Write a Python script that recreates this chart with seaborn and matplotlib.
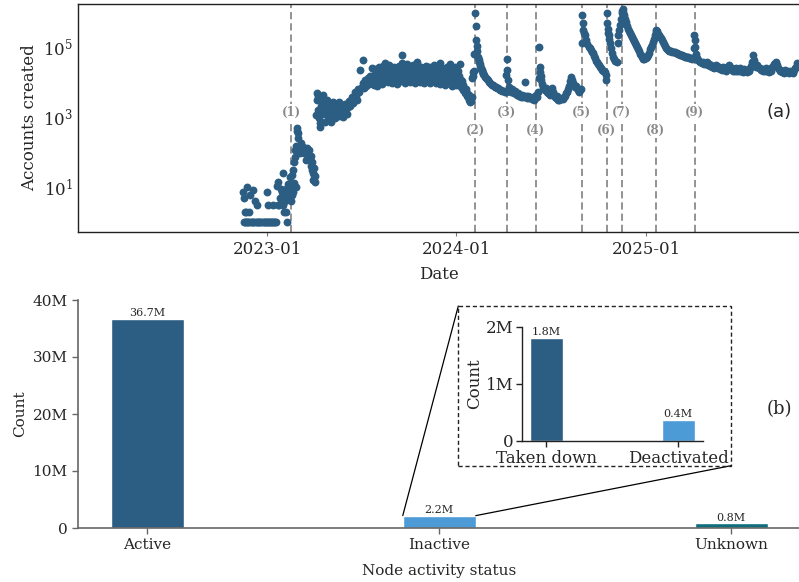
import matplotlib
matplotlib.use("Agg")
import matplotlib.pyplot as plt
import matplotlib.dates as mdates
import matplotlib.ticker as mticker
import matplotlib.transforms as mtrans
from matplotlib.patches import Rectangle, ConnectionPatch
import numpy as np
import pandas as pd
import seaborn as sns

# ---------------- data ----------------
reference_day = "2023-01-01"   # day offsets below are relative to this date

# (day offset, accounts created that day)
launch_phase = [
    (-46, 7), (-45, 1), (-44, 5), (-43, 1), (-42, 2), (-41, 1), (-40, 2), (-39, 1), (-38, 10),
    (-37, 1), (-36, 2), (-35, 1), (-33, 6), (-32, 1), (-30, 1), (-28, 8), (-27, 1), (-25, 1),
    (-23, 4), (-22, 1), (-20, 3), (-19, 1), (-17, 1), (-15, 1), (-13, 1), (-11, 1), (-9, 1),
    (-7, 1), (-5, 1), (-3, 1), (-1, 1), (0, 7), (1, 1), (2, 3), (3, 1), (5, 1), (7, 1), (9, 1),
    (11, 1), (12, 3), (13, 1), (15, 1), (17, 1), (19, 11), (20, 3), (21, 14), (23, 3), (25, 5),
    (27, 9), (29, 7), (30, 3), (31, 25), (32, 2), (33, 6), (35, 4), (36, 2), (37, 9), (38, 5),
    (39, 1), (40, 12), (42, 7), (44, 19), (45, 4),
]

invite_phase = [
    (46, 10), (47, 22), (48, 6), (49, 30), (50, 7), (51, 50), (52, 13), (53, 110), (54, 70),
    (55, 10), (56, 150), (57, 400), (58, 470), (59, 340), (60, 250), (61, 110), (62, 140),
    (64, 90), (66, 180), (67, 110), (69, 140), (71, 90), (73, 110), (74, 60), (76, 130),
    (78, 80), (80, 110), (82, 60), (84, 40), (85, 75), (86, 30), (87, 50), (88, 25), (89, 16),
    (90, 35), (91, 22), (92, 14), (93, 20),
    (95, 1100), (96, 2900), (97, 4600), (98, 3800), (99, 1500), (100, 900), (101, 650),
    (102, 500), (103, 1200), (104, 2000), (106, 3000), (107, 4000), (108, 2500), (110, 1500),
    (111, 700), (112, 1200), (114, 1800), (115, 3000), (116, 1400), (118, 1000), (120, 2000),
    (122, 1500), (123, 700), (124, 1100), (126, 1600), (127, 2600), (128, 1000), (130, 900),
    (132, 1300), (134, 1800), (136, 1200), (138, 1000), (139, 2500), (140, 1500), (142, 2000),
    (144, 1300), (146, 950), (148, 1400), (150, 2200), (152, 1600), (154, 1200), (156, 1800),
    (158, 2800), (160, 2000), (162, 3000), (164, 3600), (166, 2400), (168, 3200), (170, 4800),
    (172, 3800), (174, 2900), (176, 6000), (178, 5000), (180, 21000), (182, 7000),
    (184, 40000), (185, 9000), (186, 6500), (188, 11000), (190, 7500), (192, 9500),
    (194, 12000), (196, 8500), (198, 14000), (200, 10000), (202, 24000), (204, 12000),
]

plateau_phase = [
    (206, 15000), (207, 8000), (208, 22000), (210, 11000), (211, 18000), (212, 7500),
    (214, 13000), (215, 26000), (216, 9000), (218, 16000), (219, 11000), (220, 21000),
    (222, 8500), (223, 14000), (224, 27000), (226, 12000), (227, 19000), (228, 33000),
    (229, 10000), (230, 16000), (232, 23000), (233, 9500), (234, 14000), (236, 28000),
    (237, 11000), (238, 17000), (240, 9000), (241, 21000), (242, 13000), (244, 25000),
    (245, 10000), (246, 16000), (248, 12000), (249, 22000), (250, 8500), (252, 18000),
    (253, 13000), (254, 27000), (256, 10000), (257, 16000), (258, 21000), (260, 33000),
    (261, 55000), (262, 12000), (264, 19000), (265, 9000), (266, 24000), (268, 14000),
    (269, 30000), (270, 10000), (272, 17000), (273, 12000), (274, 26000), (276, 9500),
    (277, 15000), (278, 20000), (280, 11000), (281, 28000), (282, 14000), (284, 18000),
    (285, 9000), (286, 23000), (288, 12000), (289, 16000), (290, 35000), (292, 13000),
    (293, 21000), (294, 9500), (296, 17000), (297, 26000), (298, 11000), (300, 15000),
    (301, 22000), (302, 9000), (304, 18000), (305, 13000), (306, 27000), (308, 10000),
    (309, 16000), (310, 21000), (312, 12000), (313, 25000), (314, 9000), (316, 17000),
    (317, 13000), (318, 23000), (320, 10000), (321, 15000), (322, 28000), (324, 12000),
    (325, 18000), (326, 9000), (328, 22000), (329, 14000), (330, 11000), (332, 19000),
    (333, 8500), (334, 33000), (336, 13000), (337, 24000), (338, 10000), (340, 16000),
    (341, 12000), (342, 21000), (344, 8000), (345, 15000), (346, 26000), (348, 11000),
    (349, 18000), (350, 9000), (352, 14000), (353, 30000), (354, 10000), (356, 17000),
    (357, 7500), (358, 12000), (360, 22000), (361, 9000), (362, 25000), (364, 15000),
    (365, 8000), (366, 12000), (368, 20000), (369, 9000), (370, 14000), (372, 30000),
    (373, 11000), (374, 7000), (376, 10000), (377, 5500), (378, 8000), (380, 6500),
    (381, 4500), (382, 5000), (384, 6000), (385, 3800), (386, 4500), (388, 3600),
    (389, 3000), (390, 4000), (392, 2600), (393, 3200), (394, 2700), (395, 3500),
    (396, 12000), (397, 18000), (398, 14000), (399, 20000),
]

open_phase = [
    (400, 60000), (401, 870000), (402, 370000), (403, 150000), (404, 100000), (405, 70000),
    (406, 50000), (407, 45000), (408, 40000), (409, 34000), (410, 30000), (411, 27000),
    (412, 24000), (413, 22500), (414, 21000), (415, 19000), (416, 17000), (417, 16000),
    (418, 15000), (420, 13500), (422, 12500), (424, 11500), (426, 10500), (428, 9500),
    (430, 9000), (432, 8500), (434, 8000), (436, 7800), (438, 7300), (440, 7000), (442, 6800),
    (444, 6500), (446, 6400), (448, 6000), (450, 5800), (452, 5600), (454, 5400), (456, 5200),
    (458, 5000), (460, 4900), (461, 15000), (462, 43000), (463, 21000), (464, 11000),
    (466, 7000), (468, 5500), (470, 4800), (472, 6000), (474, 5000), (476, 4500), (478, 5200),
    (480, 4300), (482, 4000), (484, 4600), (486, 3800), (488, 4200), (490, 3600), (492, 4000),
    (494, 3500), (496, 3900), (498, 9500), (500, 3700), (502, 3400), (504, 3800), (506, 3300),
    (508, 3600), (510, 3200), (512, 3500), (514, 3000), (516, 3400), (518, 4000), (520, 3500),
    (522, 5000), (524, 12000), (525, 93000), (526, 25000), (527, 18000), (528, 14000),
    (529, 11000), (530, 8500), (532, 7000), (534, 6000), (536, 5500), (538, 6500), (540, 5000),
    (542, 4500), (544, 5200), (546, 4200), (548, 5500), (550, 6500), (552, 5000), (554, 4000),
    (556, 3600), (558, 3300), (560, 3800), (562, 3000), (564, 2900), (566, 3200), (568, 3400),
    (570, 3100), (572, 3600), (574, 3800), (576, 4500), (578, 5000), (580, 6000), (582, 7500),
    (584, 10000), (586, 13000), (588, 11000), (590, 9000), (592, 8000), (594, 7000),
    (596, 7500), (598, 6500), (600, 5600), (602, 5000), (604, 5500), (606, 6000),
]

surge_phase = [
    (607, 120000), (608, 760000), (609, 450000), (610, 280000), (612, 240000), (614, 200000),
    (616, 150000), (618, 115000), (620, 93000), (622, 85000), (624, 75000), (626, 68000),
    (628, 63000), (630, 52000), (632, 45000), (634, 38000), (636, 34000), (638, 30000),
    (640, 28000), (642, 25000), (644, 23000), (646, 21000), (648, 20000), (650, 19000),
    (652, 18000), (653, 15000), (654, 11000), (655, 870000), (656, 450000), (657, 300000),
    (658, 240000), (659, 200000), (660, 160000), (662, 120000), (664, 85000), (666, 63000),
    (668, 50000), (670, 42000), (672, 38000), (674, 35000), (676, 120000), (677, 200000),
    (678, 280000), (680, 400000), (682, 600000), (684, 850000), (685, 1000000), (686, 1100000),
    (687, 900000), (688, 750000), (690, 600000), (692, 480000), (694, 380000), (696, 300000),
    (698, 260000), (700, 230000), (702, 200000), (704, 180000), (706, 160000), (708, 140000),
    (710, 125000), (712, 110000), (714, 95000), (716, 80000), (718, 70000), (720, 60000),
    (722, 54000), (724, 49000), (726, 44000), (728, 42000), (730, 45000), (732, 50000),
    (734, 56000), (736, 65000), (738, 80000), (740, 95000), (742, 110000), (744, 130000),
    (746, 160000), (748, 200000), (750, 250000), (751, 280000), (752, 260000), (754, 220000),
    (756, 200000), (758, 185000), (760, 170000), (762, 150000), (764, 130000), (766, 115000),
    (768, 100000), (770, 90000), (772, 82000), (774, 78000), (776, 74000), (778, 72000),
    (780, 70000), (782, 68000), (784, 67000), (786, 66000), (788, 65000), (790, 62000),
    (792, 60000), (794, 58000), (796, 57000), (798, 55000), (800, 54000), (802, 52000),
    (804, 51000), (806, 50000), (808, 50000), (810, 49000), (812, 48000), (814, 47000),
    (816, 46000), (818, 45000), (820, 44000), (822, 45000), (823, 90000), (824, 200000),
    (825, 150000), (826, 93000), (827, 60000), (828, 45000),
]

late_phase = [
    (830, 45000), (832, 40000), (834, 37000), (836, 35000), (838, 33000), (840, 34000),
    (842, 31000), (844, 33000), (846, 30000), (848, 34000), (850, 29000), (852, 30000),
    (854, 27000), (856, 28000), (858, 25000), (860, 26000), (862, 24000), (864, 25000),
    (866, 29000), (868, 27000), (870, 23000), (872, 25000), (874, 22000), (876, 24000),
    (878, 21000), (880, 26000), (882, 22000), (884, 23000), (886, 20000), (888, 25000),
    (890, 22000), (892, 28000), (894, 24000), (896, 23000), (898, 20000), (900, 22000),
    (902, 19000), (904, 24000), (906, 20000), (908, 21000), (910, 19000), (912, 23000),
    (914, 20000), (916, 20000), (918, 18000), (920, 22000), (922, 19000), (924, 20000),
    (926, 18000), (928, 21000), (930, 20000), (932, 24000), (934, 27000), (936, 35000),
    (938, 55000), (940, 40000), (942, 30000), (944, 26000), (946, 28000), (948, 23000),
    (950, 24000), (952, 21000), (954, 22000), (956, 19000), (958, 21000), (960, 20000),
    (962, 23000), (964, 19000), (966, 20000), (968, 18000), (970, 22000), (972, 20000),
    (974, 25000), (976, 27000), (978, 30000), (980, 33000), (982, 35000), (984, 28000),
    (986, 24000), (988, 22000), (990, 20000), (992, 20000), (994, 18000), (996, 19000),
    (998, 17000), (1000, 21000), (1002, 19000), (1004, 18000), (1006, 17000), (1008, 20000),
    (1010, 18000), (1012, 18000), (1014, 17000), (1016, 21000), (1018, 23000), (1020, 26000),
    (1022, 33000), (1024, 30000),
]

event_dates = ["2023-02-16", "2024-02-06", "2024-04-07", "2024-06-02", "2024-08-30",
               "2024-10-17", "2024-11-15", "2025-01-20", "2025-04-05"]
event_labels = ["(1)", "(2)", "(3)", "(4)", "(5)", "(6)", "(7)", "(8)", "(9)"]
year_ticks = ["2023-01-01", "2024-01-01", "2025-01-01"]

status_labels = ["Active", "Inactive", "Unknown"]
status_counts = [36.7e6, 2.17e6, 0.8e6]
status_text = ["36.7M", "2.2M", "0.8M"]

inactive_labels = ["Taken down", "Deactivated"]
inactive_counts = [1.81e6, 0.36e6]
inactive_text = ["1.8M", "0.4M"]

# ---------------- style ----------------
DARK = "#2c5d83"
LIGHT = "#4c9bd7"
TEAL = "#0e6e7e"
GREY = "#8a8a8a"

sns.set_theme(style="ticks")
plt.rcParams["font.family"] = ["DejaVu Serif"]
plt.rcParams["mathtext.fontset"] = "dejavuserif"

W, H = 799, 582
fig = plt.figure(figsize=(W / 100, H / 100), dpi=100)
fig.patch.set_facecolor("white")

def fx(px):
    return px / W

def fy(py):
    return 1 - py / H

# ---------------- panel (a) ----------------
points = launch_phase + invite_phase + plateau_phase + open_phase + surge_phase + late_phase
df = pd.DataFrame(points, columns=["day", "count"])
df["date"] = pd.Timestamp(reference_day) + pd.to_timedelta(df["day"], unit="D")

ax1 = fig.add_axes([fx(78), fy(232), fx(800.5 - 78), (232 - 4) / H])
sns.scatterplot(data=df, x="date", y="count", ax=ax1, color=DARK, s=32,
                linewidth=0, legend=False, zorder=3)
ax1.set_yscale("log")
ax1.set_ylim(0.53, 1.55e6)
ax1.set_xlim(pd.Timestamp("2022-01-01"), pd.Timestamp("2025-10-26"))
ax1.set_yticks([10, 1e3, 1e5])
ax1.yaxis.set_minor_locator(mticker.NullLocator())
ax1.set_xticks([pd.Timestamp(t) for t in year_ticks])
ax1.xaxis.set_major_formatter(mdates.DateFormatter("%Y-%m"))
ax1.set_xlabel("Date", fontsize=12, labelpad=6)
ax1.set_ylabel("Accounts created", fontsize=12)
ax1.tick_params(axis="x", labelsize=12, length=3, width=0.8, color="#777777")
ax1.tick_params(axis="y", labelsize=12, length=0)
for side in ["left", "bottom", "top"]:
    ax1.spines[side].set_color("#222222")
    ax1.spines[side].set_linewidth(1.0)
ax1.spines["right"].set_visible(False)

blend = mtrans.blended_transform_factory(ax1.transData, ax1.transAxes)
for i, (d, lab) in enumerate(zip(event_dates, event_labels)):
    t = pd.Timestamp(d)
    ax1.axvline(t, color=GREY, lw=1.3, ls=(0, (4, 2.2)), zorder=1)
    yfrac = 0.525 if i % 2 == 0 else 0.447
    ax1.text(t, yfrac, lab, transform=blend, ha="center", va="center", fontsize=8.5,
             fontweight="bold", color=GREY, zorder=4,
             bbox=dict(facecolor="white", edgecolor="none", pad=1.0))

ax1.text(0.988, 0.525, "(a)", transform=ax1.transAxes, ha="right", va="center",
         fontsize=13, family=["DejaVu Sans"])

# ---------------- panel (b) ----------------
ax2 = fig.add_axes([fx(78), fy(528), fx(800.5 - 78), (528 - 300) / H])
sns.barplot(x=status_labels, y=status_counts, hue=status_labels,
            palette=[DARK, LIGHT, TEAL], width=0.25, saturation=1, legend=False, ax=ax2)
ax2.set_xlim(-0.2375, 2.2375)
ax2.set_ylim(0, 40e6)
ax2.set_yticks([0, 10e6, 20e6, 30e6, 40e6])
fmt = mticker.FuncFormatter(lambda v, p: "0" if v == 0 else f"{v / 1e6:.0f}M")
ax2.yaxis.set_major_formatter(fmt)
ax2.set_xlabel("Node activity status", fontsize=11, labelpad=8)
ax2.set_ylabel("Count", fontsize=11)
ax2.tick_params(labelsize=11, length=4, width=1, color="#666666")
for side in ["left", "bottom"]:
    ax2.spines[side].set_color("#666666")
    ax2.spines[side].set_linewidth(1.2)
ax2.spines["top"].set_visible(False)
ax2.spines["right"].set_visible(False)
for cont, lab in zip(ax2.containers, status_text):
    ax2.bar_label(cont, labels=[lab], fontsize=8, padding=0.5)

ax2.text(0.988, 0.52, "(b)", transform=ax2.transAxes, ha="right", va="center", fontsize=13)

# inset
ax3 = fig.add_axes([fx(521.7), fy(440.7), fx(703 - 521.7), (440.7 - 326.7) / H])
sns.barplot(x=inactive_labels, y=inactive_counts, hue=inactive_labels,
            palette=[DARK, LIGHT], width=0.25, saturation=1, legend=False, ax=ax3)
ax3.set_xlim(-0.1875, 1.1875)
ax3.set_ylim(0, 2e6)
ax3.set_yticks([0, 1e6, 2e6])
ax3.yaxis.set_major_formatter(fmt)
ax3.set_ylabel("Count", fontsize=12, labelpad=2)
ax3.set_xlabel("")
ax3.tick_params(axis="y", labelsize=12, length=4, width=1, color="#222222", pad=2)
ax3.tick_params(axis="x", labelsize=12, length=4, width=1, color="#222222", pad=3)
for side in ["left", "bottom"]:
    ax3.spines[side].set_color("#222222")
    ax3.spines[side].set_linewidth(1.0)
ax3.spines["top"].set_visible(False)
ax3.spines["right"].set_visible(False)
for cont, lab in zip(ax3.containers, inactive_text):
    ax3.bar_label(cont, labels=[lab], fontsize=8, padding=0.5)

# dashed frame around inset and zoom connectors
box_l, box_r, box_t, box_b = fx(458.3), fx(731), fy(306), fy(465.7)
fig.add_artist(Rectangle((box_l, box_b), box_r - box_l, box_t - box_b,
                         transform=fig.transFigure, fill=False, ls=(0, (3, 2)),
                         lw=1.0, edgecolor="#222222", zorder=5))
bar_half = 0.125
inactive_value = status_counts[1]
con1 = ConnectionPatch(xyA=(1 - bar_half, inactive_value), coordsA=ax2.transData,
                       xyB=(box_l, box_t), coordsB=fig.transFigure,
                       color="black", lw=0.9)
con2 = ConnectionPatch(xyA=(1 + bar_half, inactive_value), coordsA=ax2.transData,
                       xyB=(box_r, box_b), coordsB=fig.transFigure,
                       color="black", lw=0.9)
fig.add_artist(con1)
fig.add_artist(con2)

fig.savefig("out.png", dpi=100)
